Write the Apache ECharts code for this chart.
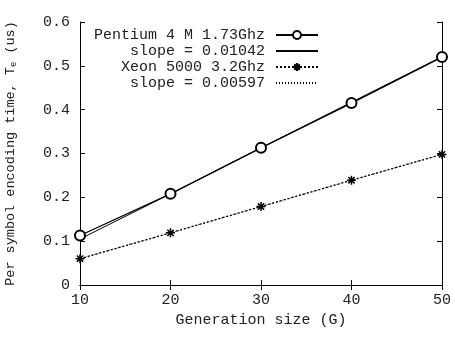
<!DOCTYPE html>
<html>
<head>
<meta charset="utf-8">
<script src="https://cdn.jsdelivr.net/npm/echarts@6/dist/echarts.min.js"></script>
<style>
  html, body { margin: 0; padding: 0; background: #fff; }
  #chart { width: 455px; height: 339px; }
</style>
</head>
<body>
<div id="chart"></div>
<script>
const genSize = [10, 20, 30, 40, 50];
const pentium = [0.113, 0.208, 0.313, 0.415, 0.52];
const pentiumFit = [0.105, 0.208, 0.313, 0.417, 0.521];
const xeon = [0.06, 0.119, 0.179, 0.239, 0.298];
const xeonFit = [0.06, 0.119, 0.179, 0.239, 0.298];
const seriesNames = [
  "Pentium 4 M 1.73Ghz",
  "slope = 0.01042",
  "Xeon 5000 3.2Ghz",
  "slope = 0.00597",
];

const font = "Liberation Mono";
const ink = "#000";
const textInk = "#222";
const fs = 15;
const star = "path://M0,-1L0,1M-1,0L1,0M-0.7,-0.7L0.7,0.7M-0.7,0.7L0.7,-0.7";

const pair = (ys) => genSize.map((x, i) => [x, ys[i]]);

const chart = echarts.init(document.getElementById("chart"));

const xBase = {
  type: "value",
  min: 10,
  max: 50,
  interval: 10,
  axisLine: { show: true, lineStyle: { color: ink, width: 1 } },
  axisTick: { show: true, inside: true, length: 5, lineStyle: { color: ink } },
  splitLine: { show: false },
};
const yBase = {
  type: "value",
  min: 0,
  max: 0.6,
  interval: 0.1,
  axisLine: { show: true, lineStyle: { color: ink, width: 1 } },
  axisTick: { show: true, inside: true, length: 5, lineStyle: { color: ink } },
  splitLine: { show: false },
};

chart.setOption({
  animation: false,
  textStyle: { fontFamily: font },
  grid: { left: 80, right: 13, top: 22, bottom: 54, outerBoundsMode: "none" },
  legend: {
    data: [
      { name: seriesNames[0] },
      { name: seriesNames[1], itemStyle: { opacity: 0 } },
      { name: seriesNames[2] },
      { name: seriesNames[3], itemStyle: { opacity: 0 } },
    ],
    orient: "vertical",
    left: 85,
    top: 25,
    align: "right",
    itemWidth: 42,
    itemHeight: 10,
    itemGap: 0,
    backgroundColor: "#fff",
    padding: [2, 2, 2, 4],
    textStyle: {
      fontFamily: font,
      fontSize: fs,
      color: textInk,
      width: 176,
      lineHeight: 16,
      align: "right",
      padding: [0, 6, 0, 0],
    },
  },
  xAxis: [
    {
      ...xBase,
      position: "bottom",
      name: "Generation size (G)",
      nameLocation: "middle",
      nameGap: 26,
      nameTextStyle: { fontFamily: font, fontSize: fs, color: textInk },
      axisLabel: { fontFamily: font, fontSize: fs, color: textInk, margin: 8 },
    },
    { ...xBase, position: "top", axisLabel: { show: false } },
  ],
  yAxis: [
    {
      ...yBase,
      position: "left",
      name: "Per symbol encoding time, T{sub|e} (us)",
      nameLocation: "middle",
      nameGap: 62,
      nameTextStyle: {
        fontFamily: font,
        fontSize: 13.5,
        color: textInk,
        rich: { sub: { fontFamily: font, fontSize: 9, color: textInk, padding: [7, 0, 0, 0] } },
      },
      axisLabel: { fontFamily: font, fontSize: fs, color: textInk, margin: 10 },
    },
    { ...yBase, position: "right", axisLabel: { show: false } },
  ],
  series: [
    {
      name: seriesNames[0],
      type: "line",
      data: pair(pentium),
      symbol: "emptyCircle",
      symbolSize: 10,
      z: 3,
      lineStyle: { color: ink, width: 1.3 },
      itemStyle: { color: ink, borderColor: ink, borderWidth: 1.2 },
    },
    {
      name: seriesNames[1],
      type: "line",
      data: pair(pentiumFit),
      symbol: "none",
      z: 2,
      lineStyle: { color: ink, width: 1 },
      itemStyle: { color: ink },
    },
    {
      name: seriesNames[2],
      type: "line",
      data: pair(xeon),
      symbol: star,
      symbolSize: 9,
      z: 3,
      lineStyle: { color: ink, width: 1.3, type: [2, 2] },
      itemStyle: { color: ink, borderColor: ink, borderWidth: 1.5 },
    },
    {
      name: seriesNames[3],
      type: "line",
      data: pair(xeonFit),
      symbol: "none",
      z: 2,
      lineStyle: { color: ink, width: 0.8, type: [1, 2] },
      itemStyle: { color: ink },
    },
  ],
});
</script>
</body>
</html>
